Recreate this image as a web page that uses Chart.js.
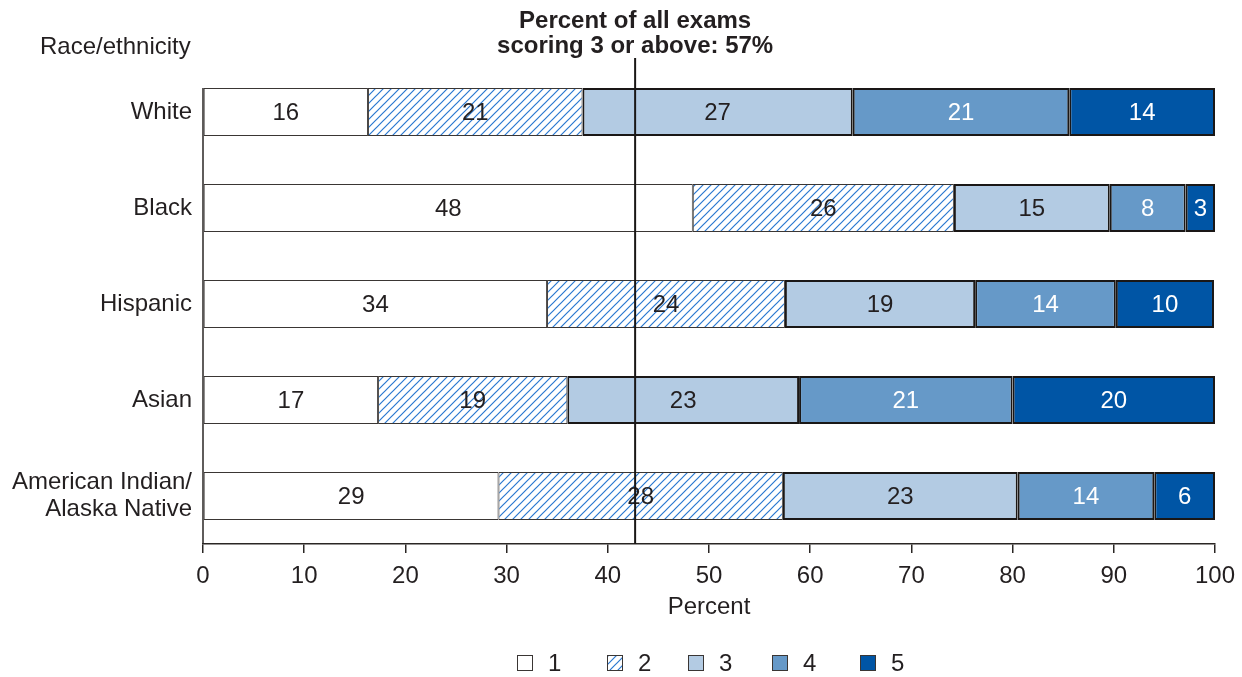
<!DOCTYPE html>
<html>
<head>
<meta charset="utf-8">
<script src="https://cdn.jsdelivr.net/npm/chart.js@4.4.1/dist/chart.umd.min.js"></script>
<style>
	html, body { margin: 0; padding: 0; background: #fff; }
	#wrap { width: 1242px; height: 677px; }
</style>
</head>
<body>
<div id="wrap"><canvas id="apChart" width="1242" height="677"></canvas></div>
<script>
var groups = ['White', 'Black', 'Hispanic', 'Asian', ['American Indian/', 'Alaska Native']];
var scoreNames = ['1', '2', '3', '4', '5'];
// percent of exams at each score
var score1 = [16.3, 48.4, 34.0, 17.3, 29.2];
var score2 = [21.2, 25.8, 23.5, 18.7, 28.1];
var score3 = [26.7, 15.4, 18.8, 22.9, 23.2];
var score4 = [21.4, 7.5, 13.9, 21.1, 13.5];
var score5 = [14.4, 2.9, 9.7, 20.0, 6.0];
var xTicks = [0, 10, 20, 30, 40, 50, 60, 70, 80, 90, 100];
var refValue = 42.7; // 100 - 57% scoring 3 or above

var ink = '#231f20';
var fontName = '"Liberation Sans", Arial, Helvetica, sans-serif';
var fontSize = 24;

function makeHatch() {
	var c = document.createElement('canvas');
	c.width = 8;
	c.height = 8;
	var g = c.getContext('2d');
	g.fillStyle = '#fff';
	g.fillRect(0, 0, 8, 8);
	g.strokeStyle = '#2a78d0';
	g.lineWidth = 1.2;
	g.beginPath();
	g.moveTo(0, 8); g.lineTo(8, 0);
	g.moveTo(-4, 4); g.lineTo(4, -4);
	g.moveTo(4, 12); g.lineTo(12, 4);
	g.stroke();
	return g.createPattern(c, 'repeat');
}

var ctx = document.getElementById('apChart').getContext('2d');
var hatch = makeHatch();

var fills = ['#ffffff', hatch, '#b3cbe3', '#6699c8', '#0055a5'];
var borders = ['#3a3634', '#3a3634', '#1a1716', '#1a1716', '#1a1716'];
var borderW = [1, 1, 2, 2, 2];
var labelColors = [ink, ink, ink, '#ffffff', '#ffffff'];
var allScores = [score1, score2, score3, score4, score5];

var datasets = [];
for (var i = 0; i < allScores.length; i++) {
	datasets.push({
		label: scoreNames[i],
		data: allScores[i],
		backgroundColor: fills[i],
		borderColor: borders[i],
		borderWidth: borderW[i],
		borderSkipped: false,
		barPercentage: 0.5,
		categoryPercentage: 1.0
	});
}

// text, value labels, reference line, y axis line and legend
var extrasPlugin = {
	id: 'extras',
	afterDatasetsDraw: function(chart) {
		var c = chart.ctx;
		var area = chart.chartArea;
		c.save();
		c.font = fontSize + 'px ' + fontName;
		c.textAlign = 'center';
		c.textBaseline = 'middle';
		chart.data.datasets.forEach(function(ds, di) {
			var meta = chart.getDatasetMeta(di);
			meta.data.forEach(function(bar, j) {
				c.fillStyle = labelColors[di];
				c.fillText(String(Math.round(ds.data[j])), (bar.x + bar.base) / 2, bar.y + 1);
			});
		});

		// left axis line from top of first bar down to x axis
		var firstBar = chart.getDatasetMeta(0).data[0];
		c.strokeStyle = '#2a2624';
		c.lineWidth = 1.5;
		c.beginPath();
		c.moveTo(area.left, firstBar.y - firstBar.height / 2);
		c.lineTo(area.left, area.bottom);
		c.stroke();

		// reference line
		var rx = chart.scales.x.getPixelForValue(refValue);
		c.strokeStyle = '#1a1716';
		c.lineWidth = 2;
		c.beginPath();
		c.moveTo(rx, 58);
		c.lineTo(rx, area.bottom);
		c.stroke();

		c.fillStyle = ink;
		c.font = 'bold ' + fontSize + 'px ' + fontName;
		c.textBaseline = 'middle';
		c.fillText('Percent of all exams', rx, 21);
		c.fillText('scoring 3 or above: 57%', rx, 46);

		c.font = fontSize + 'px ' + fontName;
		c.textAlign = 'left';
		c.fillText('Race/ethnicity', 40, 47);

		// legend
		var legendX = [517, 607, 688, 772, 860];
		var ly = 663;
		for (var k = 0; k < scoreNames.length; k++) {
			c.fillStyle = fills[k];
			c.fillRect(legendX[k], ly - 8, 16, 16);
			c.strokeStyle = '#3a3634';
			c.lineWidth = 1;
			c.strokeRect(legendX[k] + 0.5, ly - 7.5, 15, 15);
			c.fillStyle = ink;
			c.textAlign = 'left';
			c.fillText(scoreNames[k], legendX[k] + 31, ly + 1);
		}
		c.restore();
	}
};

new Chart(ctx, {
	type: 'bar',
	data: { labels: groups, datasets: datasets },
	options: {
		indexAxis: 'y',
		responsive: false,
		animation: false,
		devicePixelRatio: 1,
		layout: { padding: { top: 64, right: 0, bottom: 51, left: 0 } },
		plugins: {
			legend: { display: false },
			tooltip: { enabled: false }
		},
		scales: {
			x: {
				stacked: true,
				min: 0,
				max: 100,
				afterBuildTicks: function(scale) {
					scale.ticks = xTicks.map(function(v) { return { value: v }; });
				},
				afterFit: function(scale) {
					scale.height = 82;
					scale.paddingLeft = 0;
					scale.paddingRight = 27;
				},
				grid: { drawOnChartArea: false, drawTicks: true, tickLength: 9, color: '#2a2624', lineWidth: 1.5 },
				border: { display: true, color: '#2a2624', width: 1.5 },
				ticks: { color: ink, font: { family: fontName, size: fontSize }, padding: 9, maxRotation: 0 },
				title: { display: true, text: 'Percent', color: ink, font: { family: fontName, size: fontSize }, padding: { top: 4, bottom: 4 } }
			},
			y: {
				stacked: true,
				afterFit: function(scale) { scale.width = 203; },
				grid: { display: false },
				border: { display: false },
				ticks: { color: ink, font: { family: fontName, size: fontSize, lineHeight: 1.1 }, padding: 3 }
			}
		}
	},
	plugins: [extrasPlugin]
});
</script>
</body>
</html>
